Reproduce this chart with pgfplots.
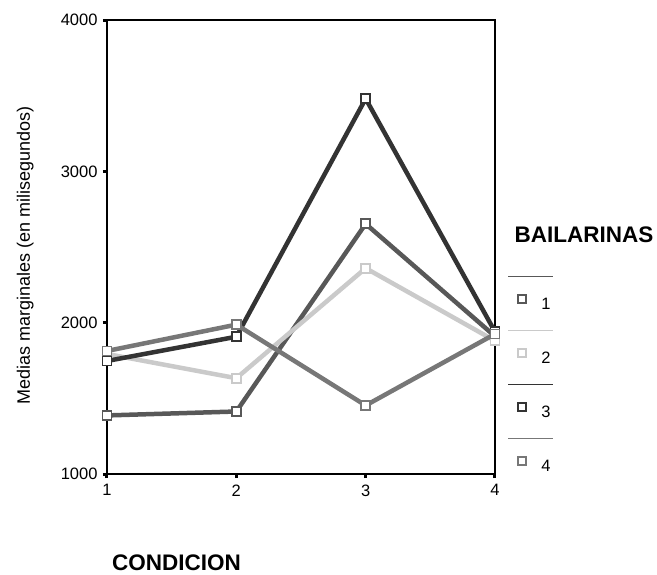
\documentclass[border=0pt]{standalone}
\usepackage{fontspec}
\setmainfont{Liberation Sans}
\usepackage{pgfplots}
\pgfplotsset{compat=1.18}
\definecolor{sA}{HTML}{585858}
\definecolor{sB}{HTML}{CACACA}
\definecolor{sC}{HTML}{333333}
\definecolor{sD}{HTML}{777777}
\begin{document}
\begin{tikzpicture}
\path[use as bounding box] (0,0) rectangle (657pt,574pt);
\node[anchor=west,font=\fontsize{22.5}{22.5}\selectfont\bfseries] at (511pt,339pt) {BAILARINAS};
\begin{axis}[
  at={(107pt,100pt)}, anchor=south west,
  scale only axis, width=388pt, height=454pt,
  xmin=1, xmax=4, ymin=1000, ymax=4000,
  xtick={1,2,3,4}, ytick={1000,2000,3000,4000},
  tick pos=left, tick align=outside,
  major tick length=4pt,
  tick style={line width=3pt, black},
  axis line style={line width=1.3pt, black},
  /pgf/number format/assume math mode=true,
  /pgf/number format/set thousands separator={},
  ticklabel style={font=\fontsize{16.5}{16.5}\selectfont},
  xticklabel style={yshift=-3pt},
  yticklabel style={xshift=-2pt},
  ylabel={Medias marginales (en milisegundos)},
  every axis y label/.style={at={(axis description cs:-0.211,0.482)}, rotate=90, anchor=center, font=\fontsize{18}{18}\selectfont},
  xlabel={CONDICION},
  every axis x label/.style={at={(axis description cs:0.004,-0.196)}, anchor=west, font=\fontsize{22.5}{22.5}\selectfont\bfseries},
  clip=false,
  every axis plot/.append style={line width=4.5pt, mark=square*, mark size=4.5pt, mark options={solid, fill=white, line width=1.8pt}},
  legend image code/.code={
    \path[draw=none, fill=none] (-5pt,-27pt) rectangle (5pt,27pt);
    \draw[#1, line width=1.5pt, overlay] (-14pt,28pt) -- (31pt,28pt);
    \draw[#1, mark size=4pt] plot coordinates {(0pt,6pt)};
  },
  legend style={draw=none, fill=none, at={(1.057,0.433)}, anchor=north west,
    inner sep=0pt, row sep=0pt, column sep=12pt,
    font=\fontsize{16.5}{16.5}\selectfont},
  legend cell align=left,
]
\addplot[color=sA] coordinates {(1,1387) (2,1413) (3,2653) (4,1910)};
\addplot[color=sB] coordinates {(1,1793) (2,1633) (3,2360) (4,1880)};
\addplot[color=sC] coordinates {(1,1747) (2,1907) (3,3480) (4,1940)};
\addplot[color=sD] coordinates {(1,1813) (2,1987) (3,1453) (4,1925)};
\legend{1,2,3,4}
\end{axis}
\end{tikzpicture}
\end{document}
